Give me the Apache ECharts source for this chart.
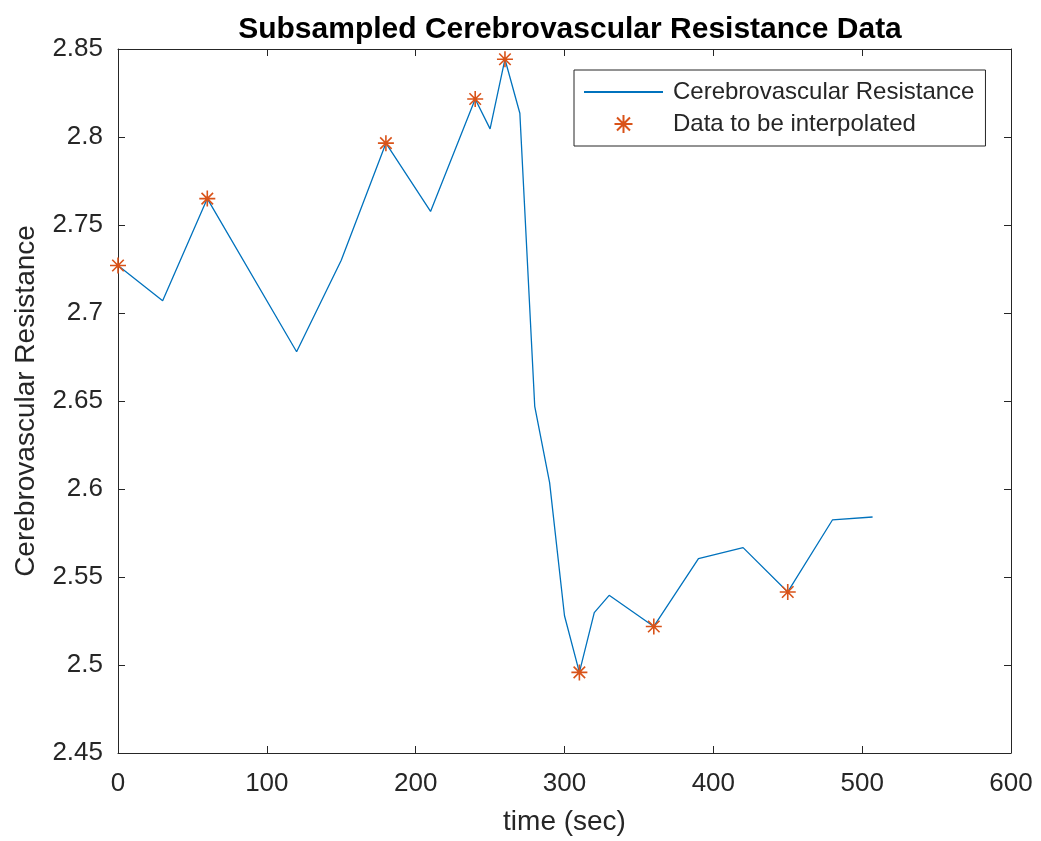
<!DOCTYPE html>
<html>
<head>
<meta charset="utf-8">
<script src="https://cdn.jsdelivr.net/npm/echarts@6/dist/echarts.min.js"></script>
<style>
  html, body { margin: 0; padding: 0; background: #fff; }
  #chart { width: 1041px; height: 841px; }
</style>
</head>
<body>
<div id="chart"></div>
<script>
  // full series (seconds, resistance)
  var timeSec = [0, 30, 60, 120, 150, 180, 210, 240, 250, 260, 270, 280, 290, 300, 310, 320, 330, 360, 390, 420, 450, 480, 507];
  var resistance = [2.727, 2.707, 2.765, 2.678, 2.730, 2.7965, 2.7577, 2.8216, 2.8046, 2.8442, 2.8135, 2.647, 2.6036, 2.528, 2.4958, 2.5298, 2.5396, 2.5219, 2.5605, 2.5667, 2.5415, 2.5824, 2.5841];

  // subsampled points to be interpolated
  var sampleTime = [0, 60, 180, 240, 260, 310, 360, 450];
  var sampleValue = [2.727, 2.765, 2.7965, 2.8216, 2.8442, 2.4958, 2.5219, 2.5415];

  var xTicks = [0, 600, 100];          // min, max, step
  var yTicks = [2.45, 2.85, 0.05];

  var lineData = timeSec.map(function (t, i) { return [t, resistance[i]]; });
  var starData = sampleTime.map(function (t, i) { return [t, sampleValue[i]]; });

  var axisColor = '#262626';
  var font = 'Liberation Sans, Arial, Helvetica, sans-serif';
  var star = 'path://M0,-1L0,1M-1,0L1,0M-0.72,-0.72L0.72,0.72M-0.72,0.72L0.72,-0.72';

  // top / right edges of the box, ticks only
  function boxAxis(pos, range) {
    return {
      type: 'value',
      position: pos,
      min: range[0],
      max: range[1],
      interval: range[2],
      axisLine: { show: true, onZero: false, lineStyle: { color: axisColor, width: 1 } },
      axisTick: { show: true, inside: true, length: 7, lineStyle: { color: axisColor } },
      axisLabel: { show: false },
      splitLine: { show: false }
    };
  }

  var myChart = echarts.init(document.getElementById('chart'));
  myChart.setOption({
    backgroundColor: '#fff',
    animation: false,
    title: {
      text: 'Subsampled Cerebrovascular Resistance Data',
      left: 565,
      textAlign: 'center',
      top: 10,
      textStyle: { fontFamily: font, fontSize: 30, fontWeight: 'bold', color: '#000' }
    },
    grid: { left: 118, right: 30, top: 49, bottom: 87 },
    legend: {
      left: 574,
      top: 70,
      orient: 'vertical',
      padding: [10, 11, 10, 9],
      itemGap: 8,
      itemWidth: 79,
      itemHeight: 18,
      borderColor: axisColor,
      borderWidth: 1,
      backgroundColor: '#fff',
      textStyle: { fontFamily: font, fontSize: 24, color: axisColor, lineHeight: 22, padding: [0, 0, 0, 5] },
      data: [
        { name: 'Cerebrovascular Resistance', itemStyle: { opacity: 0, color: 'transparent', borderWidth: 0 } },
        { name: 'Data to be interpolated' }
      ]
    },
    xAxis: [
      {
        type: 'value',
        position: 'bottom',
        min: xTicks[0],
        max: xTicks[1],
        interval: xTicks[2],
        name: 'time (sec)',
        nameLocation: 'middle',
        nameGap: 55,
        nameTextStyle: { fontFamily: font, fontSize: 28, color: axisColor },
        axisLine: { onZero: false, lineStyle: { color: axisColor, width: 1 } },
        axisTick: { inside: true, length: 7, lineStyle: { color: axisColor } },
        axisLabel: { fontFamily: font, fontSize: 26, color: axisColor, margin: 18 },
        splitLine: { show: false }
      },
      boxAxis('top', xTicks)
    ],
    yAxis: [
      {
        type: 'value',
        position: 'left',
        min: yTicks[0],
        max: yTicks[1],
        interval: yTicks[2],
        name: 'Cerebrovascular Resistance',
        nameLocation: 'middle',
        nameGap: 78,
        nameTextStyle: { fontFamily: font, fontSize: 28, color: axisColor },
        axisLine: { show: true, onZero: false, lineStyle: { color: axisColor, width: 1 } },
        axisTick: { show: true, inside: true, length: 7, lineStyle: { color: axisColor } },
        axisLabel: {
          fontFamily: font, fontSize: 26, color: axisColor, margin: 15,
          formatter: function (v) { return String(parseFloat(v.toFixed(2))); }
        },
        splitLine: { show: false }
      },
      boxAxis('right', yTicks)
    ],
    series: [
      {
        name: 'Cerebrovascular Resistance',
        type: 'line',
        data: lineData,
        symbol: 'none',
        lineStyle: { color: '#0072BD', width: 1.3 },
        itemStyle: { color: '#0072BD' },
        z: 2
      },
      {
        name: 'Data to be interpolated',
        type: 'scatter',
        data: starData,
        symbol: star,
        symbolSize: 16,
        symbolKeepAspect: true,
        itemStyle: { color: 'transparent', borderColor: '#D95319', borderWidth: 1.6, opacity: 1 },
        z: 3
      }
    ]
  });
</script>
</body>
</html>
